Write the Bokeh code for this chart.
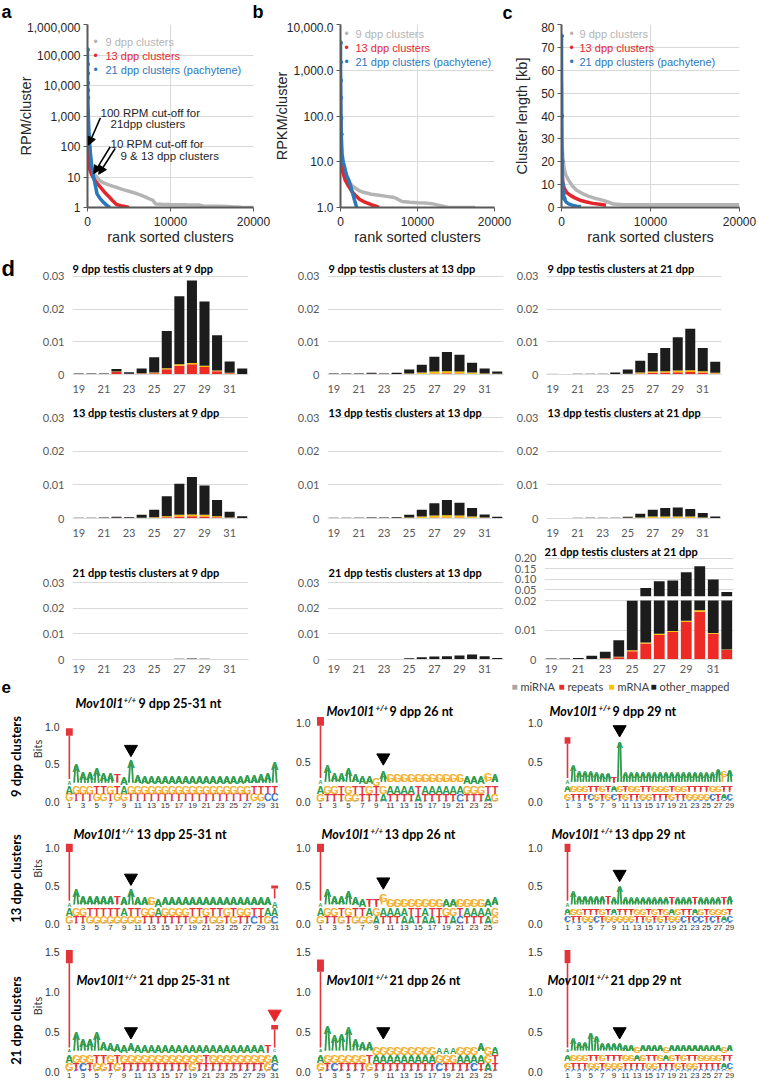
import math
from bokeh.plotting import figure
from bokeh.layouts import column, row
from bokeh.models import (Range1d, FixedTicker, Label, Arrow, NormalHead, NumeralTickFormatter)
from bokeh.core.properties import value
from bokeh.embed import file_html
from bokeh.resources import INLINE

# ---------------- panels a-c : rank sorted clusters ----------------
a_rank_9 = [0, 100, 300, 600, 1000, 1500, 2000, 2500, 3000, 3500, 4000, 4500, 5000, 5500, 6000,
            6500, 7000, 7500, 7900, 8200, 9000, 10000, 12000, 13500, 14000, 16000, 17500, 18500, 20000]
a_rpm_9 = [3000, 60, 25, 15, 11, 7.5, 6.3, 5.6, 5.0, 4.6, 4.1, 3.7, 3.4, 3.1, 2.8,
           2.5, 2.2, 1.9, 1.7, 1.3, 1.27, 1.25, 1.22, 1.2, 1.12, 1.1, 1.05, 1.02, 1.0]
a_rank_13 = [0, 50, 150, 300, 500, 800, 1100, 1500, 2000, 2500, 3000, 3500, 4000, 4500, 5000]
a_rpm_13 = [250, 60, 30, 17, 12, 8.5, 6.5, 4.8, 3.3, 2.4, 1.7, 1.25, 1.15, 1.08, 1.0]
a_rank_21 = [0, 3, 8, 15, 25, 40, 60, 90, 130, 180, 250, 350, 500, 700, 900, 1150, 1500, 1900, 2300, 2700]
a_rpm_21 = [150000, 50000, 25000, 12000, 7000, 4000, 2200, 1200, 600, 300, 150, 60, 25, 11, 6, 2.8, 2.0, 1.5, 1.2, 1.0]

b_rank_9 = [0, 100, 300, 600, 1000, 1500, 2000, 2500, 3000, 3500, 4000, 5000, 6000, 7000, 7500,
            8000, 9000, 10000, 11000, 12000, 13000, 14000, 17500]
b_rpkm_9 = [800, 20, 8, 5, 3.8, 3.0, 2.6, 2.3, 2.15, 2.05, 1.95, 1.85, 1.75, 1.65, 1.5,
            1.35, 1.3, 1.27, 1.25, 1.2, 1.1, 1.0, 1.0]
b_rank_13 = [0, 100, 300, 600, 1000, 1500, 2000, 2500, 3000, 3500, 4000, 4500, 5000]
b_rpkm_13 = [100, 12, 6, 4, 3, 2.2, 1.8, 1.5, 1.35, 1.25, 1.15, 1.08, 1.0]
b_rank_21 = [0, 5, 15, 30, 60, 100, 200, 350, 500, 800, 1100, 1500, 1800, 2100]
b_rpkm_21 = [4000, 1500, 600, 250, 90, 40, 15, 10, 8, 5, 3.9, 2.3, 1.5, 1.0]

c_rank_9 = [0, 50, 150, 300, 500, 800, 1200, 1700, 2300, 3000, 3800, 4600, 5300, 5800, 7000, 10000, 15000, 20000]
c_kb_9 = [55, 30, 22, 17, 14, 12, 9.5, 7.5, 6.2, 5.0, 4.0, 3.2, 2.3, 1.5, 1.2, 1.2, 1.2, 1.2]
c_rank_13 = [0, 50, 150, 300, 600, 1000, 1500, 2000, 2700, 3500, 4500, 5000]
c_kb_13 = [25, 15, 11, 8.5, 6.5, 5.3, 4.2, 3.3, 2.5, 1.8, 1.3, 1.0]
c_rank_21 = [0, 20, 60, 120, 200, 300, 500, 800, 1200, 1700, 2200]
c_kb_21 = [75, 40, 20, 10, 6, 4, 2.5, 1.6, 1.0, 0.6, 0.3]

series_names = ["9 dpp clusters", "13 dpp clusters", "21 dpp clusters (pachytene)"]
cutoff_arrows = [(1550, 870, 120, 111), (2740, 98, 750, 12.9), (3330, 86, 1350, 12.3)]

# ---------------- panel d : length distributions ----------------
lengths = [19, 20, 21, 22, 23, 24, 25, 26, 27, 28, 29, 30, 31, 32]
d_cats = ["miRNA", "repeats", "mRNA", "other_mapped"]

mi_9_9 = [0, 0, 0, 0, 0, 0, 0, 0, 0, 0, 0, 0, 0, 0]
rep_9_9 = [0, 0, 0, 0.0008, 0.0002, 0.0003, 0.0004, 0.0016, 0.0027, 0.0031, 0.0023, 0.0010, 0.0004, 0.0001]
mr_9_9 = [0, 0, 0, 0.0001, 0, 0.0001, 0.0002, 0.0003, 0.0004, 0.0004, 0.0004, 0.0002, 0.0001, 0]
oth_9_9 = [0.0003, 0.0003, 0.0003, 0.0008, 0.0005, 0.0014, 0.0047, 0.0114, 0.0208, 0.0252, 0.0196, 0.0108, 0.0035, 0.0017]

mi_9_13 = [0.0001, 0.0001, 0.0002, 0.0001, 0.0001, 0, 0, 0, 0, 0, 0, 0, 0, 0]
rep_9_13 = [0, 0, 0, 0.0001, 0, 0.0001, 0.0001, 0.0002, 0.0003, 0.0004, 0.0003, 0.0002, 0.0001, 0.0001]
mr_9_13 = [0, 0, 0, 0, 0, 0, 0.0002, 0.0004, 0.0006, 0.0006, 0.0006, 0.0004, 0.0002, 0.0001]
oth_9_13 = [0.0002, 0.0002, 0.0002, 0.0003, 0.0002, 0.0004, 0.0012, 0.0024, 0.0045, 0.0059, 0.0051, 0.0030, 0.0015, 0.0007]

mi_9_21 = [0.0002, 0, 0.0001, 0, 0, 0, 0, 0, 0, 0, 0, 0, 0, 0]
rep_9_21 = [0, 0, 0, 0, 0, 0, 0.0001, 0.0003, 0.0005, 0.0006, 0.0007, 0.0008, 0.0006, 0.0003]
mr_9_21 = [0, 0, 0, 0, 0, 0.0001, 0.0001, 0.0003, 0.0004, 0.0004, 0.0005, 0.0005, 0.0004, 0.0002]
oth_9_21 = [0, 0, 0.0001, 0.0002, 0.0002, 0.0005, 0.0013, 0.0036, 0.0057, 0.0071, 0.0102, 0.0127, 0.0071, 0.0034]

mi_13_9 = [0.0001, 0.0001, 0.0001, 0.0001, 0, 0, 0, 0, 0, 0, 0, 0, 0, 0]
rep_13_9 = [0, 0, 0, 0.0001, 0.0001, 0.0001, 0.0002, 0.0004, 0.0006, 0.0007, 0.0006, 0.0004, 0.0002, 0.0001]
mr_13_9 = [0, 0, 0, 0, 0, 0.0001, 0.0002, 0.0003, 0.0005, 0.0005, 0.0005, 0.0003, 0.0001, 0]
oth_13_9 = [0.0001, 0.0001, 0.0002, 0.0003, 0.0003, 0.0009, 0.0022, 0.0059, 0.0092, 0.0111, 0.0087, 0.0048, 0.0017, 0.0006]

mi_13_13 = [0.0001, 0.0001, 0.0002, 0.0002, 0.0001, 0, 0, 0, 0, 0, 0, 0, 0, 0]
rep_13_13 = [0, 0, 0, 0, 0, 0.0001, 0.0001, 0.0002, 0.0003, 0.0003, 0.0003, 0.0002, 0.0001, 0]
mr_13_13 = [0, 0, 0, 0, 0, 0, 0.0002, 0.0004, 0.0006, 0.0007, 0.0006, 0.0004, 0.0002, 0.0001]
oth_13_13 = [0.0001, 0.0001, 0.0001, 0.0002, 0.0002, 0.0003, 0.0008, 0.0020, 0.0036, 0.0045, 0.0038, 0.0025, 0.0009, 0.0004]

mi_13_21 = [0, 0, 0.0003, 0.0004, 0.0001, 0.0001, 0, 0, 0, 0, 0, 0, 0, 0]
rep_13_21 = [0, 0, 0, 0, 0, 0, 0.0001, 0.0001, 0.0002, 0.0002, 0.0002, 0.0002, 0.0001, 0]
mr_13_21 = [0, 0, 0, 0, 0, 0, 0.0001, 0.0002, 0.0004, 0.0004, 0.0004, 0.0004, 0.0002, 0.0001]
oth_13_21 = [0, 0, 0, 0, 0.0001, 0.0001, 0.0003, 0.0011, 0.0020, 0.0025, 0.0027, 0.0022, 0.0013, 0.0005]

mi_21_9 = [0, 0, 0, 0, 0, 0, 0, 0, 0, 0, 0, 0, 0, 0]
rep_21_9 = [0, 0, 0, 0, 0, 0, 0, 0, 0, 0, 0, 0, 0, 0]
mr_21_9 = [0, 0, 0, 0, 0, 0, 0, 0, 0.0001, 0.0001, 0.0001, 0, 0, 0]
oth_21_9 = [0, 0, 0, 0, 0, 0, 0.0001, 0.0001, 0.0002, 0.0003, 0.0002, 0.0001, 0.0001, 0]

mi_21_13 = [0, 0, 0, 0, 0, 0, 0, 0, 0, 0, 0, 0, 0, 0]
rep_21_13 = [0, 0, 0, 0, 0, 0, 0, 0.0001, 0.0001, 0.0001, 0.0001, 0.0001, 0.0001, 0]
mr_21_13 = [0, 0, 0, 0, 0, 0, 0.0001, 0.0001, 0.0001, 0.0001, 0.0001, 0.0001, 0.0001, 0]
oth_21_13 = [0, 0, 0, 0, 0, 0.0002, 0.0004, 0.0007, 0.0010, 0.0011, 0.0014, 0.0017, 0.0011, 0.0006]

mi_21_21 = [0.0001, 0.0001, 0.0001, 0, 0, 0, 0, 0, 0, 0, 0, 0, 0, 0]
rep_21_21 = [0, 0, 0, 0.0001, 0.0003, 0.0008, 0.0028, 0.0054, 0.0083, 0.0093, 0.0127, 0.0162, 0.0087, 0.0032]
mr_21_21 = [0, 0, 0, 0, 0.0001, 0.0001, 0.0003, 0.0004, 0.0004, 0.0004, 0.0004, 0.0005, 0.0003, 0.0002]
oth_21_21 = [0.0002, 0.0002, 0.0004, 0.0012, 0.0022, 0.0056, 0.0168, 0.0542, 0.0833, 0.0853, 0.1219, 0.1463, 0.0910, 0.0376]

# ---------------- panel e : sequence logos (layers bottom -> top) ----------------
logo1_seq = ["CCCCCCCCCCCCCCCCCCCCCCCCCCCCCCC", "GTTTGGTGGTTTTTTTTTTTTTTTTTTGGCC",
             "AGGGTTGTAGGGGGGGGGGGGGGGGGGTTTT", "AAAAAAATAAAAAAAAAAAAAAAAAAAAAAA"]
logo1_top = [0.30, 0.56, 0.45, 0.45, 0.50, 0.44, 0.43, 0.42, 0.38, 0.61, 0.41, 0.40, 0.40, 0.40, 0.40, 0.40,
             0.40, 0.40, 0.40, 0.40, 0.40, 0.40, 0.40, 0.40, 0.40, 0.40, 0.41, 0.41, 0.42, 0.44, 0.58]
logo2_seq = ["CCCCCCCCCCCCCCCCCCCCCCCCCC", "GTTTGGTTTATTTTATTTTTCTTTAG",
             "AGGTGTTGTGAAAATAAAAAAGGGTT", "AAAAAAAAGAGGGGGGGGGGGAAAGA"]
logo2_top = [0.30, 0.51, 0.41, 0.41, 0.48, 0.40, 0.38, 0.37, 0.35, 0.44, 0.40, 0.40, 0.40,
             0.40, 0.40, 0.40, 0.40, 0.40, 0.40, 0.40, 0.40, 0.38, 0.38, 0.38, 0.41, 0.40]
logo3_seq = ["CCCCGCCCGCCCCCCCCCCCCCCCCCTCC", "GTTTCGTGCTGTTGGTTTGTTGGGGCTAC",
             "AGGGTTGTAGTGGTTGGGTGGTTTTGGTT", "AAAAAAAATAAAAAAAAAAAAAAAAAAGA"]
logo3_top = [0.30, 0.52, 0.44, 0.44, 0.44, 0.43, 0.42, 0.42, 0.37, 0.82, 0.43, 0.43, 0.43, 0.43, 0.43,
             0.43, 0.43, 0.43, 0.43, 0.43, 0.43, 0.43, 0.43, 0.43, 0.43, 0.43, 0.47, 0.44, 0.46]
logo4_seq = ["CCCCCCCCCCCCCCCCCCCCCCCCCCCCGCC", "GTTGGGGGGGGTTTTTTTGGTGGTGTTCTGC",
             "AGGTTTTTATTGGAGGGGTTGTTGTGGTTAA", "AAAAAAATAAAAGAAAAAAAAAAAAAAAAAA"]
logo4_top = [0.30, 0.50, 0.42, 0.42, 0.42, 0.42, 0.42, 0.42, 0.40, 0.50, 0.40, 0.40, 0.40, 0.38, 0.40, 0.40,
             0.40, 0.40, 0.40, 0.40, 0.40, 0.40, 0.40, 0.40, 0.40, 0.40, 0.40, 0.40, 0.40, 0.40, 0.33]
logo5_seq = ["CCCCCCCCCCCCCCCCCCCCTCCCCC", "GTTGTGGGATTTAATAATTACTTTAG",
             "AGGTGTTAGAAAATTATTGGTAAAAG", "AAAAAAATTGGGGGGGGGAAGGGGAA"]
logo5_top = [0.30, 0.50, 0.42, 0.42, 0.48, 0.40, 0.38, 0.38, 0.38, 0.44, 0.38, 0.38, 0.38,
             0.38, 0.38, 0.38, 0.38, 0.38, 0.38, 0.38, 0.38, 0.38, 0.38, 0.38, 0.38, 0.40]
logo6_seq = ["GCCCCCCCCCCCCCCCCCCCCCCCCCCCC", "CTTGGCTGGGGGTTGTGTGGCTCCTCTAC",
             "AGGTTTGTATTTGGTGTGAGTTAGTGGGT", "AAAAAAATAAAAAAAAAATAAATAAAATA"]
logo6_top = [0.30, 0.48, 0.42, 0.42, 0.42, 0.42, 0.42, 0.42, 0.40, 0.55, 0.40, 0.40, 0.40, 0.40, 0.40,
             0.40, 0.40, 0.40, 0.40, 0.40, 0.40, 0.40, 0.40, 0.40, 0.40, 0.40, 0.40, 0.40, 0.42]
logo7_seq = ["CCCTCCCCCCCCCCCCCCCCCCCCCCCCCCA", "GTCTGGTGTTTTTTTTTTGTTTTTTTTTTGC",
             "AGGGTTGTGGGGGGGGGGGGTGGGGGGGGGA", "AAAAAAAAAAAAAAAAAAAAAAAAAAAAATC"]
logo7_top = [0.30, 0.54, 0.46, 0.46, 0.54, 0.42, 0.40, 0.39, 0.38, 0.40, 0.38, 0.38, 0.38, 0.38, 0.38, 0.38,
             0.38, 0.38, 0.38, 0.38, 0.38, 0.38, 0.38, 0.38, 0.38, 0.38, 0.38, 0.38, 0.38, 0.38, 0.30]
logo8_seq = ["CCTCCCCCCCCCCCCCCCTCCCCTCC", "GTCTTTTGTTTTTTTTTCTTTTCTAT",
             "AGGGGGGTAAAAAAAAAGGGAAAAGT", "AAAAAAAAGGGGGGGGGAAAGGGAGA"]
logo8_top = [0.30, 0.62, 0.50, 0.52, 0.60, 0.46, 0.42, 0.42, 0.36, 0.36, 0.36, 0.36, 0.36,
             0.36, 0.36, 0.36, 0.36, 0.34, 0.34, 0.34, 0.36, 0.36, 0.36, 0.40, 0.36, 0.36]
logo9_seq = ["CCCCCCCCCCCCCCCCCCCCCCCCCCCCG", "GTTTGGTGGGTTTTGGTTTGTGGTTTTAC",
             "AGGGTTGTTTGGAGTTGAGTGTTGGGGTT", "AAAAAAAAAAAAGAAAAGAAAAAAAAAGA"]
logo9_top = [0.30, 0.47, 0.42, 0.42, 0.54, 0.50, 0.41, 0.41, 0.41, 0.41, 0.39, 0.39, 0.36, 0.39, 0.39,
             0.39, 0.39, 0.36, 0.39, 0.39, 0.39, 0.39, 0.39, 0.39, 0.39, 0.39, 0.39, 0.36, 0.39]

logo_sticks = [[(1, 0.98)], [(1, 1.08)], [(1, 0.82)],
               [(1, 1.05), (31, 0.50)], [(1, 1.05)], [(1, 1.05)],
               [(1, 1.52), (31, 0.58)], [(1, 1.40)], [(1, 1.52)]]
logo_arrows = [(10, 0.70), (10, 0.56), (10, 0.92), (10, 0.60), (10, 0.55), (10, 0.65),
               (10, 0.50), (10, 0.50), (10, 0.50)]
logo_red_arrows = [None, None, None, None, None, None, (31, 0.72), None, None]
logo_titles = ["9 dpp 25-31 nt", "9 dpp 26 nt", "9 dpp 29 nt",
               "13 dpp 25-31 nt", "13 dpp 26 nt", "13 dpp 29 nt",
               "21 dpp 25-31 nt", "21 dpp 26 nt", "21 dpp 29 nt"]
row_labels = ["9 dpp clusters", "13 dpp clusters", "21 dpp clusters"]

# ---------------- layout helpers (reference pixel grid) ----------------
SX = 756.0 / 758.0
SY = 1082.0 / 1084.0


def X(v):
    return int(round(v * SX))


def Y(v):
    return int(round(v * SY))


GEOM = {}


def make_fig(box, frame, **kw):
    x0, y0, x1, y1 = box
    fl, ft, fr, fb = frame
    p = figure(width=X(x1) - X(x0), height=Y(y1) - Y(y0),
               min_border_left=X(fl) - X(x0), min_border_right=X(x1) - X(fr),
               min_border_top=Y(ft) - Y(y0), min_border_bottom=Y(y1) - Y(fb),
               output_backend="svg", toolbar_location=None, **kw)
    p.outline_line_color = None
    p.background_fill_color = "white"
    p.border_fill_color = "white"
    GEOM[p.id] = (fl, fb)
    return p


def lab(p, rx, ry, text, size, color="#000000", style="normal", font="Liberation Sans",
        align="left", baseline="middle", angle=0.0):
    fl, fb = GEOM[p.id]
    p.add_layout(Label(x=X(rx) - X(fl), y=Y(fb) - Y(ry), x_units="screen", y_units="screen",
                       text=text, text_font_size=f"{size}px", text_color=color,
                       text_font_style=style, text_font=font, text_align=align,
                       text_baseline=baseline, angle=angle))


def text_fig(box, frame):
    fl, ft, fr, fb = frame
    p = make_fig(box, frame, x_range=Range1d(fl, fr), y_range=Range1d(fb, ft),
                 x_axis_location=None, y_axis_location=None)
    p.grid.visible = False
    return p


# header row with panel letters a, b, c
header = text_fig((0, 0, 758, 22), (0, 0, 758, 22))
for t, x, y in (("a", 1, 11), ("b", 253, 11), ("c", 503, 12)):
    lab(header, x, y, t, 18, style="bold")

GRAY, RED, BLUE = "#b4b4b4", "#e3262b", "#2b78bb"


def top_panel(box, frame, yr, ylog, yticks, yfmt, series, ylab, lstand, legend_xy):
    p = make_fig(box, frame, x_range=Range1d(0, 20000), y_range=Range1d(*yr),
                 y_axis_type="log" if ylog else "linear")
    p.xaxis.ticker = FixedTicker(ticks=[0, 10000, 20000], minor_ticks=[])
    p.xaxis.formatter = NumeralTickFormatter(format="0")
    p.yaxis.ticker = FixedTicker(ticks=yticks, minor_ticks=[])
    p.yaxis.formatter = NumeralTickFormatter(format=yfmt)
    for ax in (p.xaxis, p.yaxis):
        ax.axis_line_color = "#595959"
        ax.axis_line_width = 2
        ax.major_tick_line_color = "#595959"
        ax.major_tick_out = 4
        ax.major_tick_in = 0
        ax.minor_tick_line_color = None
        ax.major_label_text_font = "Liberation Sans"
        ax.major_label_text_font_size = "12px"
        ax.major_label_text_color = "#262626"
        ax.major_label_standoff = 3
        ax.axis_label_text_font = "Liberation Sans"
        ax.axis_label_text_font_size = "14.5px"
        ax.axis_label_text_font_style = "normal"
        ax.axis_label_text_color = "#262626"
    p.xaxis.major_label_standoff = 5
    p.xaxis.axis_label = "rank sorted clusters"
    p.xaxis.axis_label_standoff = 0
    p.yaxis.axis_label = ylab
    p.yaxis.axis_label_standoff = lstand
    p.xgrid.grid_line_color = "#d9d9d9"
    p.ygrid.grid_line_color = "#d9d9d9"
    for (xs, ys, col) in series:
        p.line(xs, ys, line_color=col, line_width=3.5)
    xs, ys, col = series[-1]
    p.scatter(xs[:6], ys[:6], size=4, color=col)
    dx, tx, y0, dy = legend_xy
    for k, (name, col) in enumerate(zip(series_names, (GRAY, RED, BLUE))):
        lab(p, dx, y0 + k * dy, "\u2022", 12, color=col, align="center")
        lab(p, tx, y0 + k * dy, name, 11, color=col)
    return p


pa = top_panel((0, 22, 271, 250), (87, 24, 254, 207), (1, 1e6), True,
               [1, 10, 100, 1000, 10000, 100000, 1000000], "0,0",
               [(a_rank_9, a_rpm_9, GRAY), (a_rank_13, a_rpm_13, RED), (a_rank_21, a_rpm_21, BLUE)],
               "RPM/cluster", -10, (95, 105, 41, 14))
for (xs0, ys0, xs1, ys1) in cutoff_arrows:
    pa.add_layout(Arrow(end=NormalHead(size=8, fill_color="black", line_color="black"),
                        x_start=xs0, y_start=ys0, x_end=xs1, y_end=ys1,
                        line_color="black", line_width=1.5))
lab(pa, 100, 112, "100 RPM cut-off for", 11.5, color="#262626")
lab(pa, 110, 123, "21dpp clusters", 11.5, color="#262626")
lab(pa, 110, 143, "10 RPM cut-off for", 11.5, color="#262626")
lab(pa, 120, 155, "9 & 13 dpp clusters", 11.5, color="#262626")

pb = top_panel((271, 22, 512, 250), (332, 24, 495, 207), (1, 1e4), True,
               [1, 10, 100, 1000, 10000], "0,0.0",
               [(b_rank_9, b_rpkm_9, GRAY), (b_rank_13, b_rpkm_13, RED), (b_rank_21, b_rpkm_21, BLUE)],
               "RPKM/cluster", -6, (338, 347, 33, 14))
pc = top_panel((512, 22, 758, 250), (558, 24, 741, 207), (0, 80), False,
               [0, 10, 20, 30, 40, 50, 60, 70, 80], "0",
               [(c_rank_9, c_kb_9, GRAY), (c_rank_13, c_kb_13, RED), (c_rank_21, c_kb_21, BLUE)],
               "Cluster length [kb]", 8, (568, 577, 33, 14))

# ---------------- panel d ----------------
C_MI, C_REP, C_MR, C_OTH = "#a6a6a6", "#ee2a24", "#ffc000", "#1c1c1c"
BRK = 0.02
UPK = 0.0712


def du(v):
    return BRK + v * UPK


def bar_panel(box, frame, grid_top_y, title, tpos, parts, broken=False, xstand=6):
    fl, ft, fr, fb = frame
    if broken:
        ymax = (fb - ft) / 2950.0
    else:
        ymax = 0.03 * (fb - ft) / (fb - grid_top_y)
    p = make_fig(box, frame, x_range=Range1d(18.5, 32.5), y_range=Range1d(0, ymax))
    if broken:
        ticks = [0.0, 0.01, 0.02, du(0.05), du(0.1), du(0.15), du(0.2)]
        names = ["0", "0.01", "0.02", "0.05", "0.10", "0.15", "0.20"]
    else:
        ticks = [0.0, 0.01, 0.02, 0.03]
        names = ["0", "0.01", "0.02", "0.03"]
    p.yaxis.ticker = FixedTicker(ticks=ticks, minor_ticks=[])
    p.yaxis.major_label_overrides = dict(zip(ticks, names))
    p.xaxis.ticker = FixedTicker(ticks=[19, 21, 23, 25, 27, 29, 31], minor_ticks=[])
    for ax in (p.xaxis, p.yaxis):
        ax.major_tick_line_color = None
        ax.major_tick_out = 0
        ax.major_tick_in = 0
        ax.minor_tick_line_color = None
        ax.major_label_text_font = "Lato"
        ax.major_label_text_font_size = "11px"
        ax.major_label_text_color = "#595959"
        ax.axis_label_standoff = 0
    p.yaxis.axis_line_color = None
    p.yaxis.major_label_standoff = 8
    p.xaxis.axis_line_color = "#d9d9d9"
    p.xaxis.major_label_standoff = xstand
    p.xgrid.grid_line_color = None
    p.ygrid.grid_line_color = "#d9d9d9"
    cum = [0.0] * len(lengths)
    for vals, col in zip(parts, (C_MI, C_REP, C_MR, C_OTH)):
        bot = cum
        top = [b + v for b, v in zip(bot, vals)]
        cum = top
        if broken:
            bd = [min(b, BRK) for b in bot]
            td = [min(t, BRK) for t in top]
        else:
            bd, td = bot, top
        p.vbar(x=lengths, bottom=bd, top=td, width=0.8, fill_color=col, line_color=None)
    if broken:
        ux = [x for x, t in zip(lengths, cum) if t > 0.021]
        ut = [du(t) for t in cum if t > 0.021]
        p.vbar(x=ux, bottom=[du(BRK)] * len(ux), top=ut, width=0.8, fill_color=C_OTH, line_color=None)
    lab(p, tpos[0], tpos[1], title, 11, color="#000000", style="bold", font="Lato")
    return p


strip_d = text_fig((0, 250, 20, 399), (0, 250, 20, 375))
lab(strip_d, 1, 268.4, "d", 22, style="bold")
d11 = bar_panel((20, 250, 288, 399), (72, 250, 249, 375), 276, "9 dpp testis clusters at 9 dpp", (72.5, 268),
                (mi_9_9, rep_9_9, mr_9_9, oth_9_9), xstand=10)
d12 = bar_panel((288, 250, 512, 399), (328, 250, 504, 375), 276, "9 dpp testis clusters at 13 dpp", (328.5, 268),
                (mi_9_13, rep_9_13, mr_9_13, oth_9_13), xstand=10)
d13 = bar_panel((512, 250, 758, 399), (547, 250, 723, 375), 276, "9 dpp testis clusters at 21 dpp", (548, 268),
                (mi_9_21, rep_9_21, mr_9_21, oth_9_21), xstand=10)
d21 = bar_panel((0, 399, 288, 546), (72, 399, 249, 519), 418, "13 dpp testis clusters at 9 dpp", (72.5, 413),
                (mi_13_9, rep_13_9, mr_13_9, oth_13_9), xstand=10)
d22 = bar_panel((288, 399, 512, 546), (328, 399, 504, 519), 418, "13 dpp testis clusters at 13 dpp", (328.5, 413),
                (mi_13_13, rep_13_13, mr_13_13, oth_13_13), xstand=10)
d23 = bar_panel((512, 399, 758, 546), (547, 399, 723, 519), 418, "13 dpp testis clusters at 21 dpp", (548, 413),
                (mi_13_21, rep_13_21, mr_13_21, oth_13_21), xstand=10)
d31 = bar_panel((0, 546, 288, 678), (72, 546, 249, 660), 583, "21 dpp testis clusters at 9 dpp", (72.5, 573),
                (mi_21_9, rep_21_9, mr_21_9, oth_21_9), xstand=5)
d32 = bar_panel((288, 546, 512, 678), (328, 546, 504, 660), 583, "21 dpp testis clusters at 13 dpp", (328.5, 573),
                (mi_21_13, rep_21_13, mr_21_13, oth_21_13), xstand=5)
d33 = bar_panel((512, 546, 758, 678), (545, 546, 735, 660), 559, "21 dpp testis clusters at 21 dpp", (545.5, 552),
                (mi_21_21, rep_21_21, mr_21_21, oth_21_21), broken=True, xstand=5)

# legend strip for panel d (+ letter e)
legrow = text_fig((0, 678, 758, 697), (0, 678, 758, 697))
lab(legrow, 1, 687, "e", 17, style="bold")
leg_sq_x = [515, 562, 613, 655]
for name, col, sx in zip(d_cats, (C_MI, C_REP, C_MR, C_OTH), leg_sq_x):
    lab(legrow, sx, 687, "\u25A0", 10, color=col, align="center")
    lab(legrow, sx + 6, 687, name, 11, color="#404040", font="Lato")

# ---------------- panel e ----------------
NUC = {"A": "#2e9b4e", "C": "#3b78c6", "G": "#f3b136", "T": "#e1353b"}


def logo_panel(box, frame, xmin, xmax, ppb, yticks, seqs, top, base, sticks, arrow, red_arrow,
               title, tparts, fsmax, title_size, bits):
    fl, ft, fr, fb = frame
    ymax = (Y(fb) - Y(ft)) / ppb
    p = make_fig(box, frame, x_range=Range1d(xmin, xmax), y_range=Range1d(0, ymax))
    n = len(top)
    tx, ty, tt, tc, tf = [], [], [], [], []
    sx0, sy0, sx1, sy1, scol = [], [], [], [], []
    for i in range(n):
        pos = i + 1
        hs = [base[0], base[1], base[2], max(top[i] - sum(base), 0.02)]
        bottom = 0.0
        for k in range(4):
            ch = seqs[k][i]
            h = hs[k]
            fs = h * ppb / 0.72
            if fs > fsmax:
                cap = fsmax * 0.72 / ppb
                yb = bottom + h - cap
                if ch == "A":
                    sx0 += [pos - 0.3, pos + 0.3]
                    sy0 += [bottom, bottom]
                    sx1 += [pos - 0.12, pos + 0.12]
                    sy1 += [yb + cap * 0.2, yb + cap * 0.2]
                    scol += [NUC[ch], NUC[ch]]
                else:
                    sxx = pos if ch == "T" else pos - 0.25
                    sx0.append(sxx)
                    sy0.append(bottom)
                    sx1.append(sxx)
                    sy1.append(yb + cap * 0.2)
                    scol.append(NUC[ch])
                fs = fsmax
            else:
                yb = bottom
            tx.append(pos)
            ty.append(yb)
            tt.append(ch)
            tc.append(NUC[ch])
            tf.append(f"{fs:.1f}px")
            bottom += h
    if sx0:
        p.segment(x0=sx0, y0=sy0, x1=sx1, y1=sy1, line_color=scol, line_width=1.8)
    p.text(x=tx, y=ty, text=tt, text_color=tc, text_font_size=tf,
           text_font=value("Liberation Sans"), text_font_style="bold",
           text_align="center", text_baseline="alphabetic")
    for (pos, hgt) in sticks:
        st = top[pos - 1]
        cb = 0.12 * (hgt - st) + 0.02
        p.segment(x0=[pos], y0=[st], x1=[pos], y1=[hgt - cb], line_color=NUC["T"], line_width=1.6)
        p.rect(x=[pos], y=[hgt - cb / 2], width=1.0, height=cb, fill_color=NUC["T"], line_color=None)
    p.scatter(x=[arrow[0]], y=[arrow[1]], marker="inverted_triangle", size=13,
              fill_color="black", line_color="black")
    if red_arrow:
        p.scatter(x=[red_arrow[0]], y=[red_arrow[1]], marker="inverted_triangle", size=13,
                  fill_color="#e8262a", line_color="#e8262a")
    p.xaxis.ticker = FixedTicker(ticks=list(range(1, n + 1, 2)), minor_ticks=[])
    p.yaxis.ticker = FixedTicker(ticks=yticks, minor_ticks=[])
    p.yaxis.formatter = NumeralTickFormatter(format="0.0")
    for ax in (p.xaxis, p.yaxis):
        ax.axis_line_color = None
        ax.major_tick_line_color = None
        ax.major_tick_out = 0
        ax.major_tick_in = 0
        ax.minor_tick_line_color = None
        ax.major_label_text_font = "Liberation Sans"
        ax.major_label_text_color = "#333333"
        ax.axis_label_standoff = 0
    p.xaxis.major_label_text_font_size = "8px"
    p.xaxis.major_label_standoff = 1
    p.yaxis.major_label_text_font_size = "10.5px"
    p.yaxis.major_label_standoff = 3
    if bits:
        p.yaxis.axis_label = "Bits"
        p.yaxis.axis_label_text_font = "Lato"
        p.yaxis.axis_label_text_font_size = "11px"
        p.yaxis.axis_label_text_font_style = "normal"
        p.yaxis.axis_label_text_color = "#333333"
        p.yaxis.axis_label_standoff = -2
    p.xgrid.grid_line_color = None
    p.ygrid.grid_line_color = None
    sup_x, ty0 = tparts
    lab(p, sup_x, ty0, "Mov10l1", title_size, style="bold italic", font="Lato", align="right")
    lab(p, sup_x + 0.5, ty0 - 4, "+/+", 8, style="bold italic", font="Lato")
    lab(p, sup_x + 15, ty0, title, title_size, style="bold", font="Lato")
    return p


row_boxes = [(697, 815), (815, 942), (942, 1084)]
row_frame_y = [(697, 802), (815, 925), (942, 1073)]
col_boxes = [(24, 286), (286, 510), (510, 758)]
col_frames_x = [(62, 282, 0, 32), (314, 499, 0, 26.5), (546, 737, -2.8, 30)]
row_ppb = [(74.8, 78.3, 78.3), (76, 76, 76), (80, 80, 80)]
row_yticks = [[0, 0.5, 1.0], [0, 0.5, 1.0], [0, 0.5, 1.0, 1.5]]
row_base = [(0.05, 0.1, 0.1), (0.05, 0.1, 0.1), (0.06, 0.1, 0.1)]
title_pos = [
    [(123, 704), (375, 712), (599, 712)],
    [(121, 836), (370, 836), (601, 836)],
    [(124, 982), (375, 982), (597, 982)],
]
title_sizes = [12.5, 12.5, 12.5]
logo_fsmax = [11, 11, 9.5]
seqs_all = [logo1_seq, logo2_seq, logo3_seq, logo4_seq, logo5_seq, logo6_seq, logo7_seq, logo8_seq, logo9_seq]
tops_all = [logo1_top, logo2_top, logo3_top, logo4_top, logo5_top, logo6_top, logo7_top, logo8_top, logo9_top]
row_label_y = [757, 880, 1022]

logo_rows = []
for r in range(3):
    ft, fb = row_frame_y[r]
    strip = text_fig((0, row_boxes[r][0], 24, row_boxes[r][1]), (0, ft, 24, fb))
    lab(strip, 15, row_label_y[r], row_labels[r], 13, style="bold", font="Lato",
        align="center", angle=math.pi / 2)
    figs = [strip]
    for c in range(3):
        k = r * 3 + c
        fl, fr, xmin, xmax = col_frames_x[c]
        box = (col_boxes[c][0], row_boxes[r][0], col_boxes[c][1], row_boxes[r][1])
        p = logo_panel(box, (fl, ft, fr, fb), xmin, xmax, row_ppb[r][c], row_yticks[r], seqs_all[k],
                       tops_all[k], row_base[r], logo_sticks[k], logo_arrows[k], logo_red_arrows[k],
                       logo_titles[k], title_pos[r][c], logo_fsmax[c], title_sizes[r], c == 0)
        figs.append(p)
    logo_rows.append(row(*figs, spacing=0))

layout = column(header,
                row(pa, pb, pc, spacing=0),
                row(strip_d, d11, d12, d13, spacing=0),
                row(d21, d22, d23, spacing=0),
                row(d31, d32, d33, spacing=0),
                legrow,
                *logo_rows, spacing=0)

open("out.html", "w").write(file_html(layout, INLINE, title="piRNA clusters"))
